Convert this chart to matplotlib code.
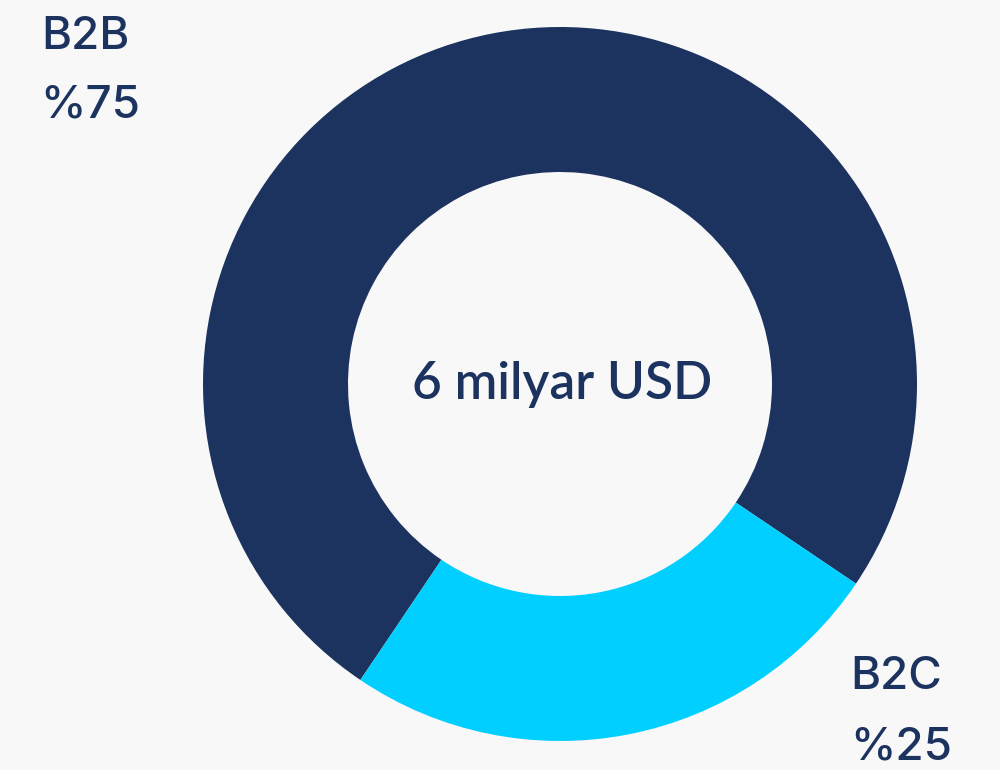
import matplotlib
matplotlib.use("Agg")
import matplotlib.pyplot as plt

segments = ["B2B", "B2C"]
shares = [75, 25]
share_labels = ["%75", "%25"]
total_label = "6 milyar USD"
colors = ["#1c335f", "#00cfff"]
text_color = "#1c335f"
bg = "#f8f8f8"

fig = plt.figure(figsize=(10, 7.7), dpi=100, facecolor=bg)
ax = fig.add_axes([0, 0, 1, 1])
ax.set_facecolor(bg)
ax.axis("off")

ax.pie(shares, colors=colors, startangle=-34, counterclock=True,
       center=(560, 386), radius=357,
       wedgeprops=dict(width=145, linewidth=0))
ax.set_xlim(0, 1000)
ax.set_ylim(0, 770)
ax.set_aspect("equal")

ax.text(562, 386, total_label, ha="center", va="center", fontsize=37,
        color=text_color, family="Lato", fontweight="semibold")

# segment labels
pos = {"B2B": (85, 733, 665), "B2C": (896, 93, 23)}
for name, lab in zip(segments, share_labels):
    x, y1, y2 = pos[name]
    ax.text(x, y1, name, ha="center", va="center", fontsize=33,
            color=text_color, family="Inter", fontweight="medium")
    ax.text(x + 5, y2, lab, ha="center", va="center", fontsize=33,
            color=text_color, family="Inter", fontweight="medium")

fig.savefig("out.png", dpi=100, facecolor=bg)
